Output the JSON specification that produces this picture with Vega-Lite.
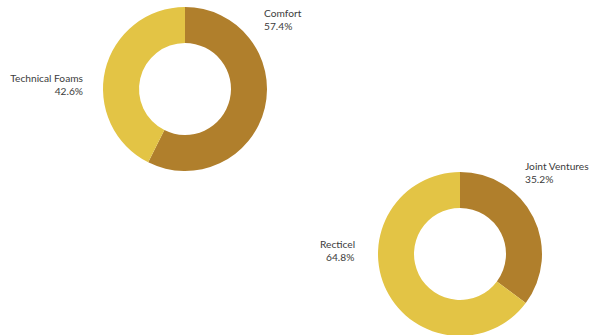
{
  "$schema": "https://vega.github.io/schema/vega-lite/v6.json",
  "width": 590,
  "height": 335,
  "autosize": {"type": "fit", "contains": "padding"},
  "padding": 0,
  "background": "white",
  "config": {
    "view": {"stroke": null},
    "text": {"font": "Lato", "fontSize": 10.2, "color": "#3c3c3c", "lineBreak": "\n", "lineHeight": 12.5, "baseline": "alphabetic"}
  },
  "data": {
    "values": [
      {"chart": "Segment", "name": "Comfort", "tone": "dark", "value": 57.4},
      {"chart": "Segment", "name": "Technical Foams", "tone": "light", "value": 42.6},
      {"chart": "Ownership", "name": "Joint Ventures", "tone": "dark", "value": 35.2},
      {"chart": "Ownership", "name": "Recticel", "tone": "light", "value": 64.8}
    ]
  },
  "transform": [
    {"calculate": "format(datum.value, '.1f') + '%'", "as": "pct"},
    {"calculate": "datum.name + '\\n' + datum.pct", "as": "label"}
  ],
  "encoding": {
    "x": {"field": "chart", "type": "nominal", "scale": {"type": "point", "padding": 0, "domain": ["Segment", "Ownership"], "range": [185, 460]}, "axis": null},
    "y": {"field": "chart", "type": "nominal", "scale": {"type": "point", "padding": 0, "domain": ["Segment", "Ownership"], "range": [89, 254]}, "axis": null}
  },
  "layer": [
    {
      "transform": [
        {"stack": "value", "groupby": ["chart"], "sort": [{"field": "tone", "order": "ascending"}], "as": ["v0", "v1"]}
      ],
      "mark": {"type": "arc", "outerRadius": 82, "innerRadius": 46},
      "encoding": {
        "theta": {"field": "v0", "type": "quantitative", "stack": null, "scale": {"domain": [0, 100]}},
        "theta2": {"field": "v1"},
        "color": {"field": "tone", "type": "nominal", "scale": {"domain": ["dark", "light"], "range": ["#B07F2C", "#E3C445"]}, "legend": null}
      }
    },
    {
      "transform": [{"filter": "datum.name === 'Comfort'"}],
      "mark": {"type": "text", "align": "left", "dx": 79, "dy": -72},
      "encoding": {"text": {"field": "label"}}
    },
    {
      "transform": [{"filter": "datum.name === 'Technical Foams'"}],
      "mark": {"type": "text", "align": "right", "dx": -102, "dy": -7},
      "encoding": {"text": {"field": "label"}}
    },
    {
      "transform": [{"filter": "datum.name === 'Joint Ventures'"}],
      "mark": {"type": "text", "align": "left", "dx": 65, "dy": -84},
      "encoding": {"text": {"field": "label"}}
    },
    {
      "transform": [{"filter": "datum.name === 'Recticel'"}],
      "mark": {"type": "text", "align": "left", "dx": -140, "dy": -6},
      "encoding": {"text": {"field": "name"}}
    },
    {
      "transform": [{"filter": "datum.name === 'Recticel'"}],
      "mark": {"type": "text", "align": "left", "dx": -134, "dy": 7},
      "encoding": {"text": {"field": "pct"}}
    }
  ]
}
